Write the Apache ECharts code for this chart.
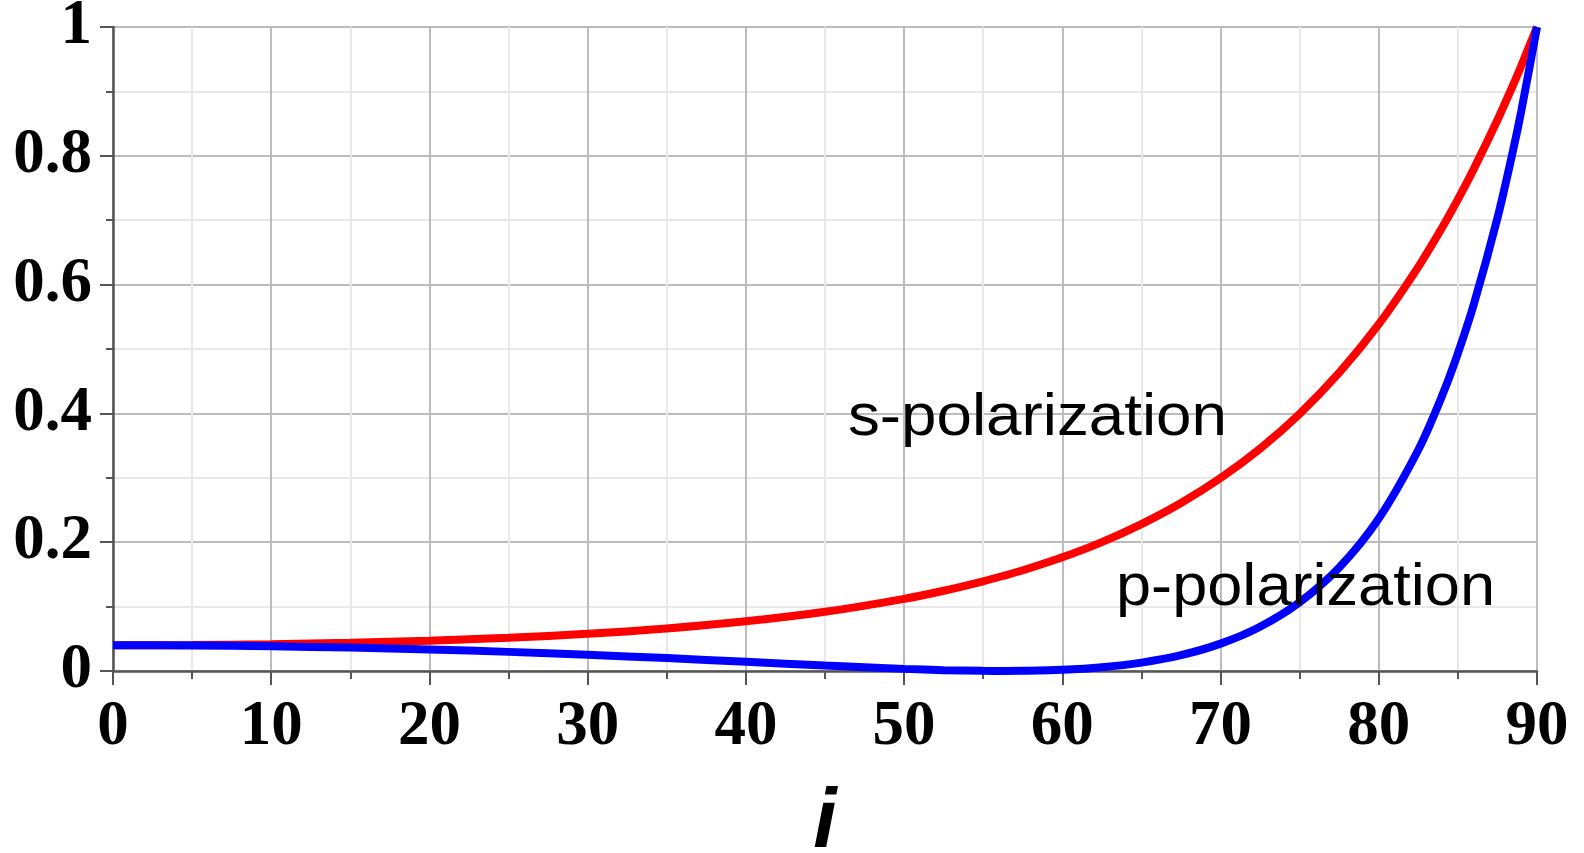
<!DOCTYPE html>
<html>
<head>
<meta charset="utf-8">
<script src="https://cdn.jsdelivr.net/npm/echarts@6/dist/echarts.min.js"></script>
<style>
html,body{margin:0;padding:0;background:#fff;}
#chart{width:1584px;height:853px;}
</style>
</head>
<body>
<div id="chart"></div>
<script>
// Incidence angle (degrees)
const angles = [0,5,10,15,20,25,30,35,40,45,50,52.5,55,56.3,57.5,60,62.5,65,67.5,70,72.5,75,77.5,80,82.5,84,85,86,87.5,88.5,89,90];
// s-polarization reflectance
const sPol = [0.04,0.0404,0.0417,0.0438,0.0471,0.0516,0.0578,0.0661,0.0772,0.0920,0.1120,0.1246,0.1393,0.1479,0.1564,0.1766,0.2002,0.2281,0.2609,0.2996,0.3453,0.3994,0.4632,0.5386,0.6276,0.6884,0.7323,0.7793,0.8555,0.9106,0.9395,1];
// p-polarization reflectance
const pPol = [0.04,0.0396,0.0384,0.0363,0.0335,0.0297,0.0252,0.0200,0.0143,0.0085,0.0033,0.0013,0.0002,0,0.0002,0.0018,0.0058,0.0130,0.0246,0.0425,0.0688,0.1068,0.1607,0.2368,0.3436,0.4273,0.4933,0.5688,0.7034,0.8099,0.8689,1];
const xName = 'i';
const sLabel = 's-polarization';
const pLabel = 'p-polarization';

const chart = echarts.init(document.getElementById('chart'), null, {renderer: 'canvas'});
const tickFont = {fontFamily: 'Liberation Serif', fontWeight: 'bold', fontSize: 63, color: '#000'};
const axisCommon = {
  axisLine: {show: true, lineStyle: {color: '#555', width: 2.5}},
  splitLine: {show: true, lineStyle: {color: '#bcbcbc', width: 2}},
  minorSplitLine: {show: true, lineStyle: {color: '#e8e8e8', width: 2}}
};
chart.setOption({
  animation: false,
  backgroundColor: '#fff',
  grid: {left: 113, right: 47, top: 27, bottom: 182, containLabel: false, outerBoundsMode: 'none'},
  xAxis: Object.assign({}, axisCommon, {
    type: 'value', min: 0, max: 90, interval: 10,
    axisTick: {show: true, length: 14, lineStyle: {color: '#555', width: 2}},
    minorTick: {show: true, splitNumber: 2, length: 8, lineStyle: {color: '#555', width: 2}},
    axisLabel: Object.assign({margin: 25}, tickFont),
    name: xName, nameLocation: 'middle', nameGap: 111,
    nameTextStyle: {fontFamily: 'Liberation Sans', fontStyle: 'italic', fontWeight: 'bold', fontSize: 84, color: '#000'}
  }),
  yAxis: Object.assign({}, axisCommon, {
    type: 'value', min: 0, max: 1, interval: 0.2,
    axisTick: {show: true, length: 13, lineStyle: {color: '#555', width: 2}},
    minorTick: {show: true, splitNumber: 2, length: 7, lineStyle: {color: '#555', width: 2}},
    axisLabel: Object.assign({margin: 21}, tickFont)
  }),
  series: [
    {type: 'line', name: sLabel, showSymbol: false, smooth: 0.3,
     lineStyle: {color: '#ff0000', width: 8}, data: angles.map((a, k) => [a, sPol[k]]), z: 2},
    {type: 'line', name: pLabel, showSymbol: false, smooth: 0.3,
     lineStyle: {color: '#0000ff', width: 8}, data: angles.map((a, k) => [a, pPol[k]]), z: 3}
  ],
  graphic: [
    {type: 'text', left: 848, top: 389, z: 10, scaleX: 1.08,
     style: {text: sLabel, font: '59px "Liberation Sans"', fill: '#000'}},
    {type: 'text', left: 1116, top: 559, z: 10, scaleX: 1.07,
     style: {text: pLabel, font: '59px "Liberation Sans"', fill: '#000'}}
  ]
});
</script>
</body>
</html>
